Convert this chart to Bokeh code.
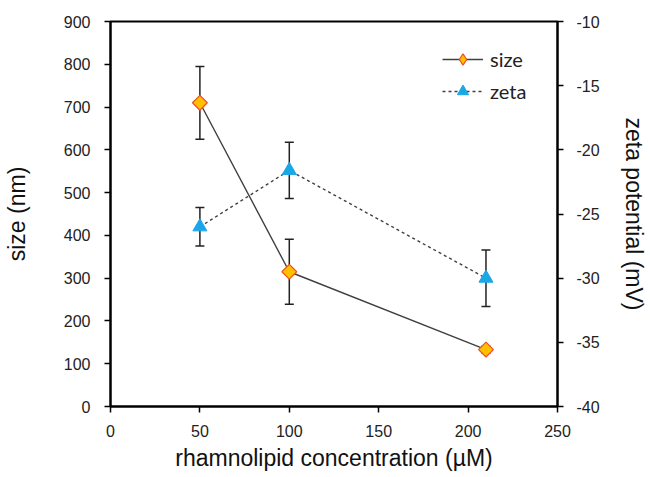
import math
from bokeh.plotting import figure
from bokeh.models import (LinearAxis, Range1d, ColumnDataSource, Whisker, TeeHead,
                          Legend, LegendItem, FixedTicker, PrintfTickFormatter)
from bokeh.embed import file_html
from bokeh.resources import INLINE

# data
conc = [50, 100, 210]
size_nm = [710, 315, 133]
size_err = [85, 76, 8]
zeta_mv = [-26.0, -21.6, -30.0]
zeta_err = [1.5, 2.2, 2.2]

x_ticks = [0, 50, 100, 150, 200, 250]
size_ticks = [0, 100, 200, 300, 400, 500, 600, 700, 800, 900]
zeta_ticks = [-40, -35, -30, -25, -20, -15, -10]

FONT = "Liberation Sans"
TXT = "#222222"
SIZE_FILL, SIZE_EDGE = "#FFC000", "#F04E23"
ZETA_COL = "#1AA7E8"

p = figure(width=650, height=477, output_backend="svg", toolbar_location=None,
           x_range=Range1d(0, 250), y_range=Range1d(0, 900))
p.min_border_left = 110
p.min_border_right = 93
p.min_border_top = 21
p.min_border_bottom = 71
p.extra_y_ranges = {"zeta": Range1d(-40, -10)}
p.grid.visible = False
p.outline_line_color = "black"
p.outline_line_width = 2
p.outline_line_alpha = 1

def style_axis(ax):
    ax.axis_line_color = "black"
    ax.axis_line_width = 2
    ax.major_tick_line_color = "black"
    ax.major_tick_line_width = 1.5
    ax.major_tick_in = 0
    ax.major_tick_out = 6
    ax.minor_tick_line_color = None
    ax.major_label_text_font = FONT
    ax.major_label_text_font_size = "16px"
    ax.major_label_text_color = TXT
    ax.axis_label_text_font = FONT
    ax.axis_label_text_font_size = "23px"
    ax.axis_label_text_font_style = "normal"
    ax.axis_label_text_color = "#111111"
    ax.formatter = PrintfTickFormatter(format="%d")

p.xaxis.ticker = FixedTicker(ticks=x_ticks)
p.xaxis.axis_label = "rhamnolipid concentration (µM)"
p.yaxis.ticker = FixedTicker(ticks=size_ticks)
p.yaxis.axis_label = "size (nm)"
style_axis(p.xaxis[0])
style_axis(p.yaxis[0])
p.xaxis.major_label_standoff = 12
p.xaxis.axis_label_standoff = 5
p.yaxis.major_label_standoff = 14
p.yaxis.axis_label_standoff = 31

rax = LinearAxis(y_range_name="zeta", ticker=FixedTicker(ticks=zeta_ticks),
                 axis_label="zeta potential (mV)")
style_axis(rax)
rax.major_label_standoff = 13
rax.axis_label_standoff = 18
p.add_layout(rax, "right")

src_s = ColumnDataSource(dict(x=conc, y=size_nm,
                              lo=[v - e for v, e in zip(size_nm, size_err)],
                              hi=[v + e for v, e in zip(size_nm, size_err)]))
src_z = ColumnDataSource(dict(x=conc, y=zeta_mv,
                              lo=[v - e for v, e in zip(zeta_mv, zeta_err)],
                              hi=[v + e for v, e in zip(zeta_mv, zeta_err)]))

for src, rng in ((src_s, "default"), (src_z, "zeta")):
    w = Whisker(source=src, base="x", upper="hi", lower="lo", y_range_name=rng,
                line_color="#222222", line_width=1.5,
                upper_head=TeeHead(size=9, line_color="#222222", line_width=1.5),
                lower_head=TeeHead(size=9, line_color="#222222", line_width=1.5))
    p.add_layout(w)

ls = p.line("x", "y", source=src_s, line_color="#404040", line_width=1.4)
ms = p.scatter("x", "y", source=src_s, marker="square", size=10.5, angle=math.pi / 4,
               fill_color=SIZE_FILL, line_color=SIZE_EDGE, line_width=1.2)
lz = p.line("x", "y", source=src_z, y_range_name="zeta", line_color="#404040",
            line_width=1.4, line_dash="3 3")
mz = p.scatter("x", "y", source=src_z, y_range_name="zeta", marker="triangle",
               size=14, fill_color=ZETA_COL, line_color=ZETA_COL, line_width=1)

# legend-only diamond (legend ignores marker angle); muted so it is hidden in the plot
ms_leg = p.scatter("x", "y", source=src_s, marker="diamond", size=16,
                   fill_color=SIZE_FILL, line_color=SIZE_EDGE, line_width=1.2,
                   muted_alpha=0)
ms_leg.muted = True

legend = Legend(items=[LegendItem(label="size", renderers=[ls, ms_leg]),
                       LegendItem(label="zeta", renderers=[lz, mz])],
                location=(332, 301))
legend.border_line_color = None
legend.background_fill_alpha = 0
legend.padding = 0
legend.spacing = 4
legend.label_height = 28
legend.glyph_height = 28
legend.glyph_width = 41
legend.label_standoff = 7
legend.label_text_font = "Lato"
legend.label_text_font_size = "20px"
legend.label_text_color = TXT
legend.click_policy = "none"
p.add_layout(legend)

open("out.html", "w").write(file_html(p, INLINE))
